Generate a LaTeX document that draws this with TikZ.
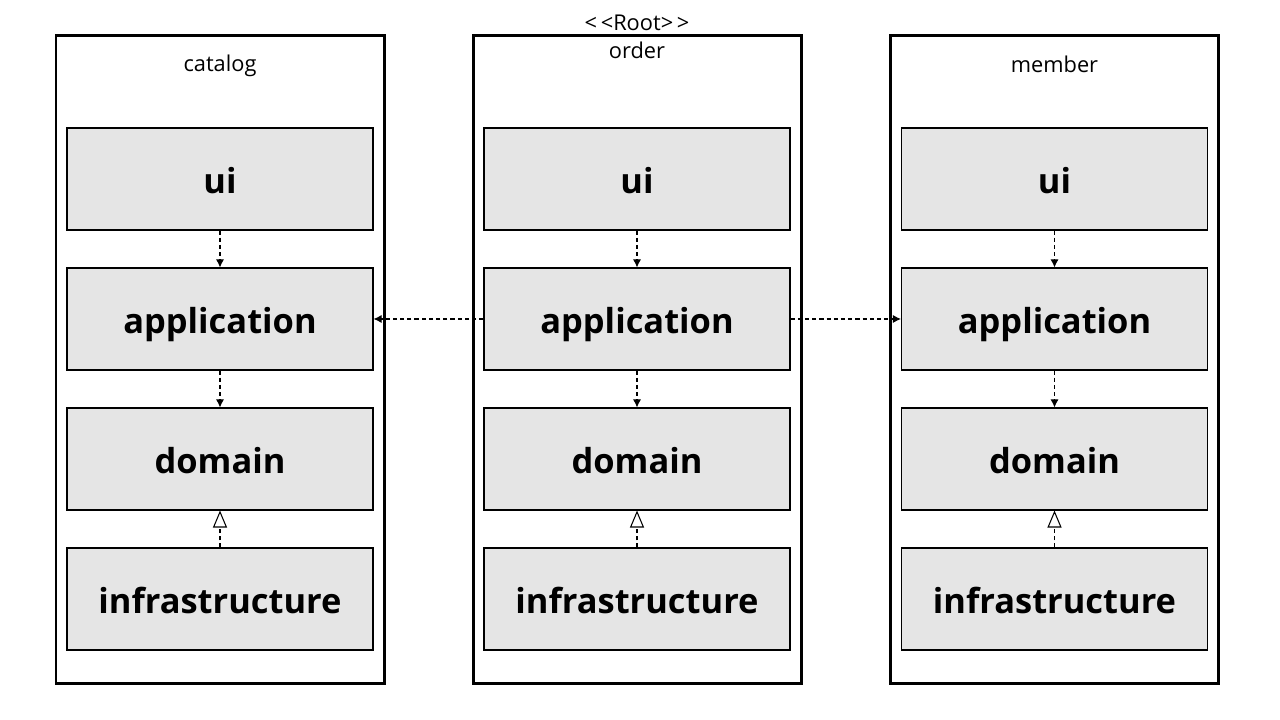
\documentclass[tikz,border=0pt]{standalone}
\usepackage{fontspec}
\setmainfont{Open Sans}
\usetikzlibrary{arrows.meta}
\begin{document}
\begin{tikzpicture}[every node/.style = {inner sep=0pt}]
\tikzstyle{package} = [draw,line width=0.85pt,minimum width=3.28cm,minimum height=6.48cm];
\tikzstyle{layer} = [draw,line width=0.3pt,fill=black!10,minimum width=3.06cm,minimum height=1.02cm,text height=0.3cm,text depth=0cm,font=\fontsize{9.8}{12}\selectfont\bfseries];
\tikzstyle{title} = [font=\fontsize{6.2}{7.8}\selectfont,align=center];
\tikzstyle{dep} = [line width=0.3pt,dash pattern=on 1.2pt off 0.85pt,-{Latex[length=0.8mm,width=0.8mm]}];
\tikzstyle{impl} = [line width=0.3pt,dash pattern=on 1.2pt off 0.85pt,-{Triangle[open,length=1.7mm,width=1.4mm]}];
\useasboundingbox (0,0) rectangle (12.8,7.2);

% catalog
\node [package] (c0) at (2.20,3.60) {};
\node [title] (ct) at (2.20,6.54) {catalog};
\node [layer] (c1) at (2.20,5.41) {ui};
\node [layer] (c2) at (2.20,4.01) {application};
\node [layer] (c3) at (2.20,2.61) {domain};
\node [layer] (c4) at (2.20,1.21) {infrastructure};
\draw [dep] (c1) -- (c2);
\draw [dep] (c2) -- (c3);
\draw [impl] (c4) -- (c3);

% order
\node [package] (o0) at (6.37,3.60) {};
\node [title] (ot) at (6.37,6.83) {<\,{}<Root>\,{}>\\order};
\node [layer] (o1) at (6.37,5.41) {ui};
\node [layer] (o2) at (6.37,4.01) {application};
\node [layer] (o3) at (6.37,2.61) {domain};
\node [layer] (o4) at (6.37,1.21) {infrastructure};
\draw [dep] (o1) -- (o2);
\draw [dep] (o2) -- (o3);
\draw [impl] (o4) -- (o3);

% member
\node [package] (m0) at (10.545,3.60) {};
\node [title] (mt) at (10.545,6.56) {member};
\node [layer] (m1) at (10.545,5.41) {ui};
\node [layer] (m2) at (10.545,4.01) {application};
\node [layer] (m3) at (10.545,2.61) {domain};
\node [layer] (m4) at (10.545,1.21) {infrastructure};
\draw [dep] (m1) -- (m2);
\draw [dep] (m2) -- (m3);
\draw [impl] (m4) -- (m3);

\draw [dep] (o2) -- (c2);
\draw [dep] (o2) -- (m2);
\end{tikzpicture}
\end{document}
